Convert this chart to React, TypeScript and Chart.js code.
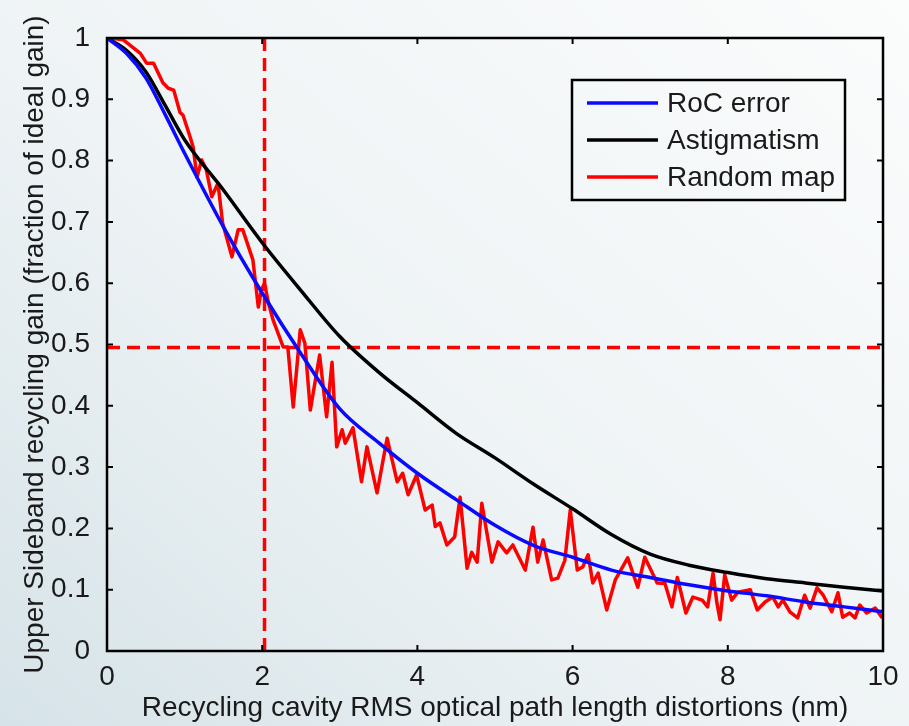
import React, { useEffect, useRef } from "react";
import { Chart, registerables } from "chart.js";

Chart.register(...registerables);

const smoothX = [0, 0.25, 0.5, 0.75, 1, 1.5, 2, 2.5, 3, 3.5, 4, 4.5, 5, 5.5, 6, 6.5, 7, 7.5, 8, 8.5, 9, 9.5, 10];
const rocY = [1, 0.975, 0.935, 0.875, 0.812, 0.692, 0.584, 0.485, 0.395, 0.34, 0.29, 0.247, 0.205, 0.172, 0.153, 0.132, 0.12, 0.108, 0.098, 0.09, 0.08, 0.072, 0.064];
const astigY = [1, 0.98, 0.945, 0.89, 0.834, 0.752, 0.666, 0.588, 0.513, 0.455, 0.405, 0.355, 0.315, 0.272, 0.232, 0.19, 0.158, 0.14, 0.128, 0.118, 0.111, 0.104, 0.098];

const randX = [0, 0.04, 0.21, 0.43, 0.51, 0.6, 0.72, 0.79, 0.86, 0.94, 0.98, 1.07, 1.11, 1.16, 1.22, 1.28, 1.35, 1.43, 1.49, 1.61, 1.69, 1.75, 1.88, 1.95, 1.99, 2.03, 2.08, 2.14, 2.27, 2.33, 2.4, 2.49, 2.55, 2.62, 2.74, 2.83, 2.9, 2.96, 3.03, 3.07, 3.17, 3.28, 3.35, 3.48, 3.61, 3.74, 3.81, 3.88, 3.99, 4.1, 4.19, 4.23, 4.29, 4.38, 4.48, 4.55, 4.64, 4.7, 4.77, 4.83, 4.96, 5.04, 5.15, 5.23, 5.39, 5.49, 5.55, 5.62, 5.73, 5.81, 5.9, 5.97, 6.06, 6.13, 6.2, 6.26, 6.33, 6.44, 6.55, 6.71, 6.84, 6.93, 7.09, 7.19, 7.28, 7.35, 7.46, 7.55, 7.67, 7.74, 7.81, 7.86, 7.9, 7.96, 8.05, 8.13, 8.29, 8.38, 8.48, 8.58, 8.65, 8.71, 8.8, 8.9, 8.99, 9.06, 9.15, 9.23, 9.34, 9.42, 9.48, 9.57, 9.64, 9.7, 9.79, 9.9, 9.99];
const randY = [1, 1, 0.997, 0.975, 0.959, 0.959, 0.927, 0.918, 0.915, 0.879, 0.874, 0.839, 0.822, 0.773, 0.801, 0.785, 0.741, 0.763, 0.698, 0.643, 0.687, 0.687, 0.638, 0.561, 0.589, 0.6, 0.568, 0.54, 0.496, 0.496, 0.398, 0.524, 0.502, 0.393, 0.483, 0.382, 0.471, 0.333, 0.361, 0.339, 0.364, 0.276, 0.333, 0.258, 0.347, 0.276, 0.29, 0.255, 0.287, 0.23, 0.238, 0.203, 0.209, 0.173, 0.186, 0.251, 0.135, 0.161, 0.145, 0.241, 0.145, 0.178, 0.16, 0.173, 0.132, 0.202, 0.145, 0.181, 0.116, 0.119, 0.148, 0.23, 0.132, 0.137, 0.157, 0.111, 0.127, 0.067, 0.116, 0.152, 0.104, 0.153, 0.111, 0.11, 0.072, 0.12, 0.062, 0.088, 0.083, 0.072, 0.127, 0.078, 0.051, 0.124, 0.083, 0.096, 0.1, 0.067, 0.08, 0.088, 0.072, 0.083, 0.064, 0.054, 0.091, 0.07, 0.103, 0.091, 0.064, 0.095, 0.055, 0.062, 0.054, 0.075, 0.062, 0.07, 0.054];

const markerX = 2.03;
const markerY = 0.495;

const seriesNames = ["RoC error", "Astigmatism", "Random map"];
const seriesColors = ["#0a0aff", "#000000", "#ff0000"];
const xTicks = [0, 2, 4, 6, 8, 10];
const yTicks = [0, 0.1, 0.2, 0.3, 0.4, 0.5, 0.6, 0.7, 0.8, 0.9, 1];
const yTickLabels = ["0", "0.1", "0.2", "0.3", "0.4", "0.5", "0.6", "0.7", "0.8", "0.9", "1"];
const xTitle = "Recycling cavity RMS optical path length distortions (nm)";
const yTitle = "Upper Sideband recycling gain (fraction of ideal gain)";

const FONT = "'Liberation Sans', Arial, sans-serif";
const TEXT = "#1a1a1a";

const frame = {
  id: "frame",
  afterDatasetsDraw(chart: any) {
    const { ctx, chartArea: a, scales } = chart;
    const xs = scales.x, ys = scales.y;
    ctx.save();
    ctx.strokeStyle = "#000";
    ctx.lineWidth = 2.5;
    ctx.strokeRect(a.left, a.top, a.right - a.left, a.bottom - a.top);
    ctx.lineWidth = 2;
    const L = 6;
    xTicks.forEach((v) => {
      const p = xs.getPixelForValue(v);
      ctx.beginPath();
      ctx.moveTo(p, a.bottom); ctx.lineTo(p, a.bottom - L);
      ctx.moveTo(p, a.top); ctx.lineTo(p, a.top + L);
      ctx.stroke();
    });
    yTicks.forEach((v) => {
      const p = ys.getPixelForValue(v);
      ctx.beginPath();
      ctx.moveTo(a.left, p); ctx.lineTo(a.left + L, p);
      ctx.moveTo(a.right, p); ctx.lineTo(a.right - L, p);
      ctx.stroke();
    });
    // legend
    const bx = a.right - 311, by = a.top + 42, bw = 273, bh = 120;
    ctx.lineWidth = 2.5;
    ctx.strokeStyle = "#000";
    ctx.strokeRect(bx, by, bw, bh);
    ctx.font = `28px ${FONT}`;
    ctx.textBaseline = "middle";
    ctx.fillStyle = TEXT;
    seriesNames.forEach((n, i) => {
      const y = by + 23 + i * 37;
      ctx.strokeStyle = seriesColors[i];
      ctx.lineWidth = 3.5;
      ctx.beginPath();
      ctx.moveTo(bx + 15, y); ctx.lineTo(bx + 86, y);
      ctx.stroke();
      ctx.fillText(n, bx + 95, y + 1);
    });
    ctx.restore();
  },
};

export default function App() {
  const ref = useRef<HTMLCanvasElement | null>(null);
  useEffect(() => {
    document.body.style.margin = "0";
    const pts = (xs: number[], ys: number[]) => xs.map((x, i) => ({ x, y: ys[i] }));
    const chart = new Chart(ref.current!, {
      type: "line",
      data: {
        datasets: [
          { label: seriesNames[0], data: pts(smoothX, rocY), borderColor: seriesColors[0], borderWidth: 3.5, pointRadius: 0, cubicInterpolationMode: "monotone" },
          { label: seriesNames[1], data: pts(smoothX, astigY), borderColor: seriesColors[1], borderWidth: 3.5, pointRadius: 0, cubicInterpolationMode: "monotone" },
          { label: seriesNames[2], data: pts(randX, randY), borderColor: seriesColors[2], borderWidth: 3.5, pointRadius: 0, tension: 0, borderJoinStyle: "round" },
          { label: "vline", data: [{ x: markerX, y: 0 }, { x: markerX, y: 1 }], borderColor: "#ff0000", borderWidth: 3.5, borderDash: [13, 7], pointRadius: 0 },
          { label: "hline", data: [{ x: 0, y: markerY }, { x: 10, y: markerY }], borderColor: "#ff0000", borderWidth: 3.5, borderDash: [13, 7], pointRadius: 0 },
        ],
      } as any,
      options: {
        animation: false,
        responsive: false,
        parsing: false as any,
        layout: { padding: { top: 38, right: 26, left: 0, bottom: 0 } },
        plugins: { legend: { display: false }, tooltip: { enabled: false } },
        scales: {
          x: {
            type: "linear",
            min: 0,
            max: 10,
            grid: { display: false },
            border: { display: false },
            afterBuildTicks: (s: any) => { s.ticks = xTicks.map((v) => ({ value: v })); },
            afterFit: (s: any) => { s.height = 75; },
            ticks: { color: TEXT, font: { family: FONT, size: 28 }, padding: 1, maxRotation: 0, callback: (v: any) => String(v) },
            title: { display: true, text: xTitle, color: TEXT, font: { family: FONT, size: 28 }, padding: { top: 0, bottom: 1 } },
          },
          y: {
            type: "linear",
            min: 0,
            max: 1,
            grid: { display: false },
            border: { display: false },
            afterBuildTicks: (s: any) => { s.ticks = yTicks.map((v) => ({ value: v })); },
            afterFit: (s: any) => { s.width = 107; },
            ticks: { color: TEXT, font: { family: FONT, size: 28 }, padding: 9, callback: (v: any) => yTickLabels[yTicks.findIndex((t) => Math.abs(t - v) < 1e-6)] ?? "" },
            title: { display: true, text: yTitle, color: TEXT, font: { family: FONT, size: 28 }, padding: { top: 18, bottom: 0 } },
          },
        },
      },
      plugins: [frame],
    });
    return () => chart.destroy();
  }, []);
  return (
    <div style={{ position: "fixed", left: 0, top: 0, width: 909, height: 726, background: "linear-gradient(40deg, #d6e3e8 0%, #eef3f5 45%, #fbfcfc 100%)" }}>
      <canvas ref={ref} width={909} height={726} style={{ display: "block" }} />
    </div>
  );
}
